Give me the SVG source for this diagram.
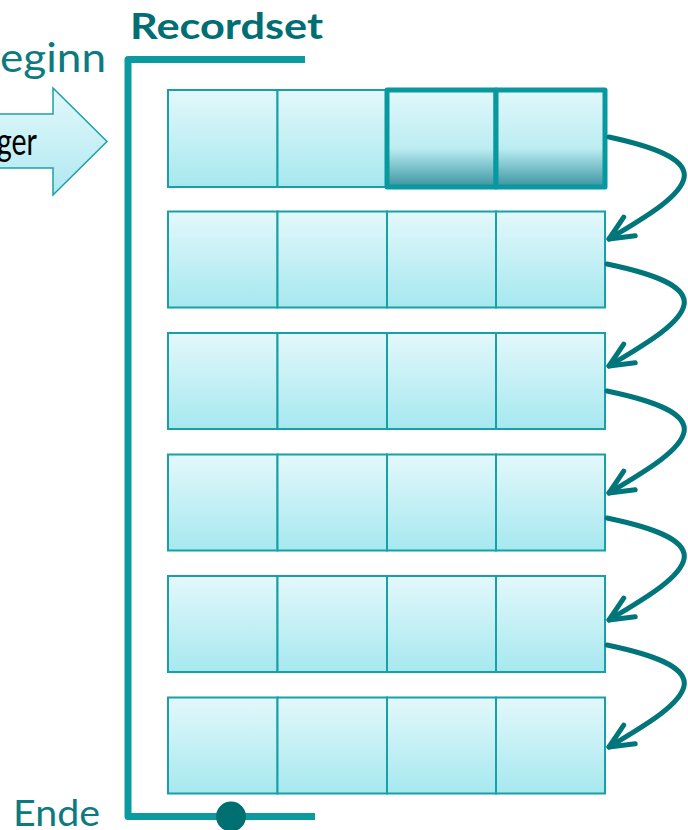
<svg xmlns="http://www.w3.org/2000/svg" width="688" height="830" viewBox="0 0 688 830">
<defs>
<linearGradient id="cellG" x1="0" y1="0" x2="0" y2="1">
<stop offset="0" stop-color="#e3f8fb"/>
<stop offset="1" stop-color="#a6e8ef"/>
</linearGradient>
<linearGradient id="selG" x1="0" y1="0" x2="0" y2="1">
<stop offset="0" stop-color="#e1f8fb"/>
<stop offset="0.6" stop-color="#bcedf2"/>
<stop offset="0.72" stop-color="#95d3da"/>
<stop offset="1" stop-color="#3b94a0"/>
</linearGradient>
<linearGradient id="arrG" x1="0" y1="0" x2="0" y2="1">
<stop offset="0" stop-color="#e3f8fb"/>
<stop offset="1" stop-color="#aee9f0"/>
</linearGradient>
<marker id="head" markerUnits="userSpaceOnUse" viewBox="-30 -16 36 32" markerWidth="36" markerHeight="32" refX="0" refY="0" orient="auto" overflow="visible">
<path d="M-24,-11 L0,0 L-24,11" fill="none" stroke="#00767a" stroke-width="5" stroke-linecap="round" stroke-linejoin="round"/>
</marker>
</defs>
<style>
.cell{fill:url(#cellG);stroke:#17a1a7;stroke-width:2}
.sel{fill:url(#selG);stroke:#07999f;stroke-width:5;stroke-linejoin:round}
.conn{fill:none;stroke:#00767a;stroke-width:5;stroke-linecap:round}
.bracket{fill:none;stroke:#0a9aa0;stroke-width:7;stroke-linejoin:round}
.lbl{font-family:Lato,"Open Sans","Liberation Sans",sans-serif;fill:#0d7a80}
</style>
<g id="title"><text x="130" y="39" class="lbl" font-size="36" font-weight="bold" style="fill:#006e73" textLength="193" lengthAdjust="spacingAndGlyphs">Recordset</text></g>
<g id="beginn"><text x="0" y="72" class="lbl" font-size="40" textLength="106" lengthAdjust="spacingAndGlyphs">eginn</text></g>
<g id="ende"><text x="13" y="826" class="lbl" font-size="36" textLength="87" lengthAdjust="spacingAndGlyphs">Ende</text></g>
<g id="zeiger">
<polygon points="-5,114 53,114 53,88 107,141.5 53,195 53,168 -5,168" fill="url(#arrG)" stroke="#1ba0a8" stroke-width="1.5" stroke-linejoin="miter"/>
<text x="-3" y="155" font-family="Lato,'Open Sans','Liberation Sans',sans-serif" font-size="39" fill="#000" textLength="40" lengthAdjust="spacingAndGlyphs">ger</text>
</g>
<g id="bracket">
<path class="bracket" d="M305,59.5 L128,59.5 L128,816.5 L315,816.5"/>
<circle cx="231" cy="816.5" r="15" fill="#006f72"/>
</g>
<g id="row1">
<rect class="cell" x="168" y="90" width="109.5" height="97"/>
<rect class="cell" x="277.5" y="90" width="109.5" height="97"/>
<rect class="sel" x="387" y="90" width="109" height="97"/>
<rect class="sel" x="496" y="90" width="109" height="97"/>
</g>
<g id="row2">
<rect class="cell" x="168" y="211.5" width="109.5" height="96"/>
<rect class="cell" x="277.5" y="211.5" width="109.5" height="96"/>
<rect class="cell" x="387" y="211.5" width="109" height="96"/>
<rect class="cell" x="496" y="211.5" width="109" height="96"/>
</g>
<g id="row3">
<rect class="cell" x="168" y="333" width="109.5" height="96"/>
<rect class="cell" x="277.5" y="333" width="109.5" height="96"/>
<rect class="cell" x="387" y="333" width="109" height="96"/>
<rect class="cell" x="496" y="333" width="109" height="96"/>
</g>
<g id="row4">
<rect class="cell" x="168" y="454.5" width="109.5" height="96"/>
<rect class="cell" x="277.5" y="454.5" width="109.5" height="96"/>
<rect class="cell" x="387" y="454.5" width="109" height="96"/>
<rect class="cell" x="496" y="454.5" width="109" height="96"/>
</g>
<g id="row5">
<rect class="cell" x="168" y="576" width="109.5" height="96"/>
<rect class="cell" x="277.5" y="576" width="109.5" height="96"/>
<rect class="cell" x="387" y="576" width="109" height="96"/>
<rect class="cell" x="496" y="576" width="109" height="96"/>
</g>
<g id="row6">
<rect class="cell" x="168" y="697.5" width="109.5" height="96"/>
<rect class="cell" x="277.5" y="697.5" width="109.5" height="96"/>
<rect class="cell" x="387" y="697.5" width="109" height="96"/>
<rect class="cell" x="496" y="697.5" width="109" height="96"/>
</g>
<g id="connectors">
<path class="conn" marker-end="url(#head)" d="M609,137 C650,146 688,158 684,178 C680,198 640,220 609,239"/>
<path class="conn" marker-end="url(#head)" d="M607,264 C650,273 688,285 684,305 C680,325 640,347 609,366"/>
<path class="conn" marker-end="url(#head)" d="M607,391 C650,400 688,412 684,432 C680,452 640,474 609,493"/>
<path class="conn" marker-end="url(#head)" d="M607,518 C650,527 688,539 684,559 C680,579 640,601 609,620"/>
<path class="conn" marker-end="url(#head)" d="M607,645 C650,654 688,666 684,686 C680,706 640,728 609,747"/>
</g>
</svg>
